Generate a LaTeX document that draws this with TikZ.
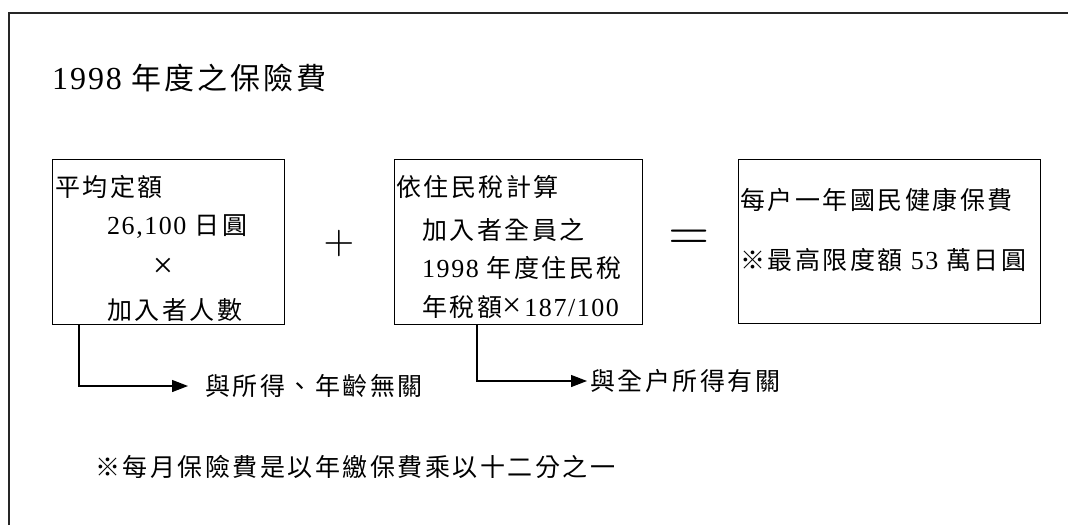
\documentclass[tikz,border=0pt]{standalone}
\usepackage[no-math]{fontspec}
\setmainfont{Liberation Serif}[LetterSpace=6]
\newfontfamily\cjk[LetterSpace=10]{Noto Sans CJK TC}
\usetikzlibrary{arrows.meta,calc}
\begin{document}
\begin{tikzpicture}[x=1pt,y=-1pt,
  frame/.style={line width=2pt,black!85},
  box/.style={draw,line width=1.4pt,inner sep=0,anchor=north west},
  txt/.style={anchor=west,inner sep=0,font=\fontsize{26}{26}\selectfont},
  op/.style={inner sep=0,transform shape},
  conn/.style={line width=1.3pt,-{Triangle[length=16pt,width=12pt]}}]
\useasboundingbox (0,0) rectangle (1068,525);
\draw[frame] (9,525) -- (9,13) -- (1068,13);
% title
\node[anchor=west,inner sep=0] (title) at (52,78)
  {\fontsize{32}{32}\selectfont 1998 {\cjk\fontsize{30}{30}\selectfont 年度之保險費}};
% boxes
\node[box,minimum width=232pt,minimum height=165pt] (b1) at (52,159) {};
\node[box,minimum width=248pt,minimum height=165pt] (b2) at (394,159) {};
\node[box,minimum width=302pt,minimum height=164pt] (b3) at (738,159) {};
% box 1 text
\node[txt] (l11) at (55,187) {\cjk\fontsize{25}{25}\selectfont 平均定額};
\node[txt] (l12) at (107,227) {26,100 {\cjk\fontsize{25}{25}\selectfont 日圓}};
\node[txt,anchor=center] (l13) at (163,268) {\fontsize{36}{36}\selectfont ×};
\node[txt] (l14) at (107,310) {\cjk\fontsize{25}{25}\selectfont 加入者人數};
% box 2 text
\node[txt] (l21) at (396,187) {\cjk\fontsize{25}{25}\selectfont 依住民稅計算};
\node[txt] (l22) at (422,230) {\cjk\fontsize{25}{25}\selectfont 加入者全員之};
\node[txt] (l23) at (422,268) {1998 {\cjk\fontsize{25}{25}\selectfont 年度住民稅}};
\node[txt] (l24) at (422,307) {{\cjk\fontsize{25}{25}\selectfont 年稅額}{\fontsize{34}{34}\selectfont ×}\hspace{3pt}187/100};
% box 3 text
\node[txt] (l31) at (740,200) {\cjk\fontsize{25}{25}\selectfont 每户一年國民健康保費};
\node[txt] (l32) at (740,260) {{\cjk\fontsize{25}{25}\selectfont ※最高限度額} 53 {\cjk\fontsize{25}{25}\selectfont 萬日圓}};
% operators
\node[op,scale=4] (plus) at (339,243) {$+$};
\node[op,scale=5.3] (eq) at (689,240) {$=$};
% labels below
\node[txt] (lbl1) at (205,386) {\cjk\fontsize{25}{25}\selectfont 與所得、年齡無關};
\node[txt] (lbl2) at (590,381) {\cjk\fontsize{25}{25}\selectfont 與全户所得有關};
\draw[conn] ($(b1.south west)+(27,0)$) |- ([xshift=-17pt]lbl1.west);
\draw[conn] ($(b2.south west)+(83,0)$) |- ([xshift=-3pt]lbl2.west);
% note
\node[txt] (note) at (95,467) {\cjk\fontsize{25}{25}\selectfont ※每月保險費是以年繳保費乘以十二分之一};
\end{tikzpicture}
\end{document}
